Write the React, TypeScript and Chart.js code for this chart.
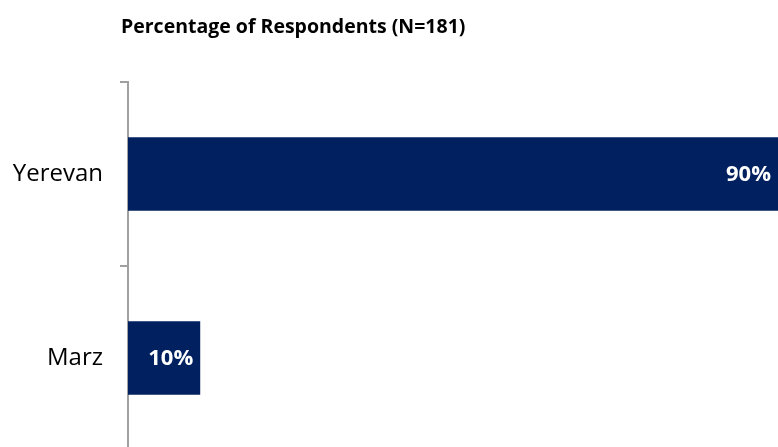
import React, { useEffect, useRef } from "react";
import { Chart, registerables } from "chart.js";

Chart.register(...registerables);

const categories: string[] = ["Yerevan", "Marz"];
const percentages: number[] = [90, 10];
const chartTitle = "Percentage of Respondents (N=181)";

const FONT = "'Open Sans', 'Noto Sans', sans-serif";

const overlayPlugin = {
  id: "overlay",
  afterDatasetsDraw(chart: any) {
    const { ctx, chartArea } = chart;
    ctx.save();
    // title
    ctx.fillStyle = "#000000";
    ctx.font = `bold 19.5px ${FONT}`;
    ctx.textAlign = "left";
    ctx.textBaseline = "middle";
    ctx.fillText(chartTitle, chartArea.left - 7, 27);
    // value labels
    const meta = chart.getDatasetMeta(0);
    ctx.font = `bold 22px ${FONT}`;
    ctx.fillStyle = "#ffffff";
    ctx.textAlign = "right";
    meta.data.forEach((bar: any, i: number) => {
      const endX = Math.min(bar.x, chartArea.right);
      ctx.fillText(`${percentages[i]}%`, endX - 7, bar.y + 1);
    });
    ctx.restore();
  },
};

export default function App() {
  const ref = useRef<HTMLCanvasElement>(null);
  useEffect(() => {
    document.body.style.margin = "0";
    document.body.style.overflow = "hidden";
    const chart = new Chart(ref.current!, {
      type: "bar",
      data: {
        labels: categories,
        datasets: [
          {
            data: percentages,
            backgroundColor: "#002060",
            borderWidth: 0,
            barPercentage: 0.8,
            categoryPercentage: 0.5,
          },
        ],
      },
      options: {
        indexAxis: "y",
        animation: false,
        responsive: false,
        maintainAspectRatio: false,
        layout: { padding: { top: 82, right: 0, bottom: 0, left: 0 } },
        plugins: {
          legend: { display: false },
          title: { display: false },
          tooltip: { enabled: false },
        },
        scales: {
          x: {
            display: false,
            min: 0,
            max: 90,
          },
          y: {
            offset: true,
            afterFit: (scale: any) => {
              scale.width = 128;
              scale.paddingTop = 0;
              scale.paddingBottom = 0;
            },
            border: { display: true, color: "#A0A0A0", width: 2 },
            grid: {
              offset: true,
              drawOnChartArea: false,
              drawTicks: true,
              tickLength: 8,
              color: "#A0A0A0",
              lineWidth: 2,
            },
            ticks: {
              color: "#000000",
              font: { family: FONT, size: 24 },
              padding: 17,
            },
          },
        },
      },
      plugins: [overlayPlugin],
    });
    return () => chart.destroy();
  }, []);
  return (
    <div style={{ width: 778, height: 450 }}>
      <canvas ref={ref} width={778} height={450} style={{ display: "block" }} />
    </div>
  );
}
